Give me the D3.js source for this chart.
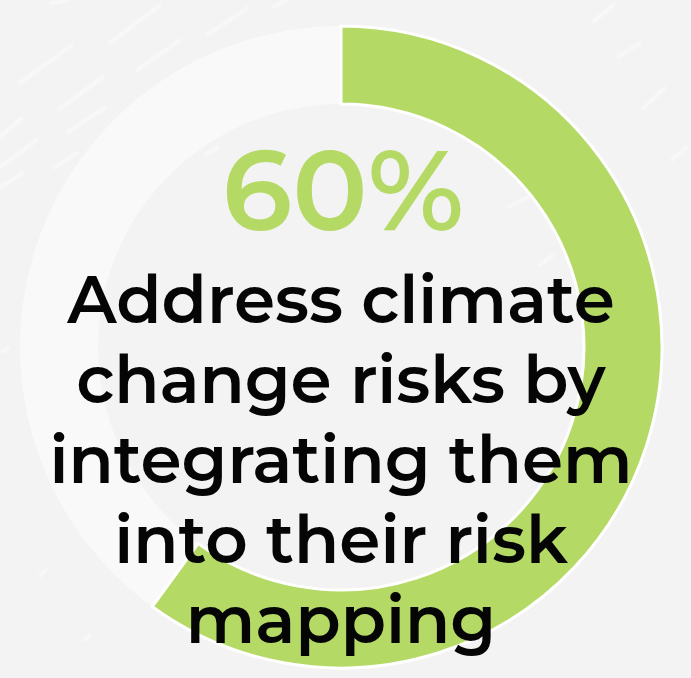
<!DOCTYPE html>
<html>
<head>
<meta charset="utf-8">
<script src="https://cdn.jsdelivr.net/npm/d3@7"></script>
<style>
  html, body { margin: 0; padding: 0; background: #f3f3f3; }
  svg { display: block; }
</style>
</head>
<body>
<svg id="chart" width="691" height="678"></svg>
<script>
// Share of respondents and the remainder of the ring
const categories = ["Address climate change risks", "Other"];
const values = [60, 40];
const headline = "60%";
const labelLines = [
  "Address climate",
  "change risks by",
  "integrating them",
  "into their risk",
  "mapping"
];

// Soft rain-like streaks in the backdrop: [x1, y1, x2, y2]
const streaks = [
  [20, 83, 72, 45], [110, 43, 160, 5], [207, 35, 248, 8], [137, 70, 180, 40],
  [58, 110, 103, 77], [68, 132, 105, 108], [0, 137, 22, 118], [0, 167, 37, 140],
  [53, 168, 77, 153], [0, 187, 23, 173], [273, 7, 287, 0], [52, 3, 68, 0],
  [593, 22, 613, 5], [618, 57, 640, 43], [643, 108, 665, 88], [672, 160, 687, 147],
  [508, 207, 528, 197], [540, 265, 553, 255], [205, 155, 218, 147],
  [2, 352, 8, 348], [40, 576, 46, 570], [84, 640, 90, 636], [560, 300, 572, 292]
];

const W = 691, H = 678;
const cx = 341, cy = 347;
const outerR = 321, innerR = 243;

const svg = d3.select("#chart");

svg.append("rect").attr("width", W).attr("height", H).attr("fill", "#f3f3f3");

const defs = svg.append("defs");
defs.append("filter").attr("id", "soft")
  .append("feGaussianBlur").attr("stdDeviation", 0.9);

svg.append("g").attr("filter", "url(#soft)")
  .selectAll("line").data(streaks).join("line")
  .attr("x1", d => d[0]).attr("y1", d => d[1])
  .attr("x2", d => d[2]).attr("y2", d => d[3])
  .attr("stroke", "#ffffff").attr("stroke-opacity", 0.55)
  .attr("stroke-width", 3).attr("stroke-linecap", "round");

const pie = d3.pie().sort(null).value(d => d);
const arc = d3.arc().innerRadius(innerR).outerRadius(outerR);
const color = d3.scaleOrdinal().domain(categories).range(["#b4da65", "#f9f9f9"]);

const g = svg.append("g").attr("transform", `translate(${cx},${cy})`);
const arcs = pie(values);

// remainder first so the highlighted share sits on top
g.selectAll("path.rest").data([arcs[1]]).join("path")
  .attr("class", "rest")
  .attr("d", arc)
  .attr("fill", color(categories[1]));

g.selectAll("path.share").data([arcs[0]]).join("path")
  .attr("class", "share")
  .attr("d", arc)
  .attr("fill", color(categories[0]))
  .attr("stroke", "#ffffff")
  .attr("stroke-width", 3)
  .attr("stroke-linejoin", "miter");

const font = "Montserrat, 'DejaVu Sans', sans-serif";

svg.append("text")
  .attr("x", 343).attr("y", 230)
  .attr("text-anchor", "middle")
  .attr("font-family", font)
  .attr("font-weight", 600)
  .attr("font-size", 112)
  .attr("fill", color(categories[0]))
  .text(headline);

svg.append("g").selectAll("text").data(labelLines).join("text")
  .attr("x", 341)
  .attr("y", (d, i) => 323 + i * 80)
  .attr("text-anchor", "middle")
  .attr("font-family", font)
  .attr("font-weight", 600)
  .attr("font-size", 66)
  .attr("fill", "#050505")
  .text(d => d);
</script>
</body>
</html>
